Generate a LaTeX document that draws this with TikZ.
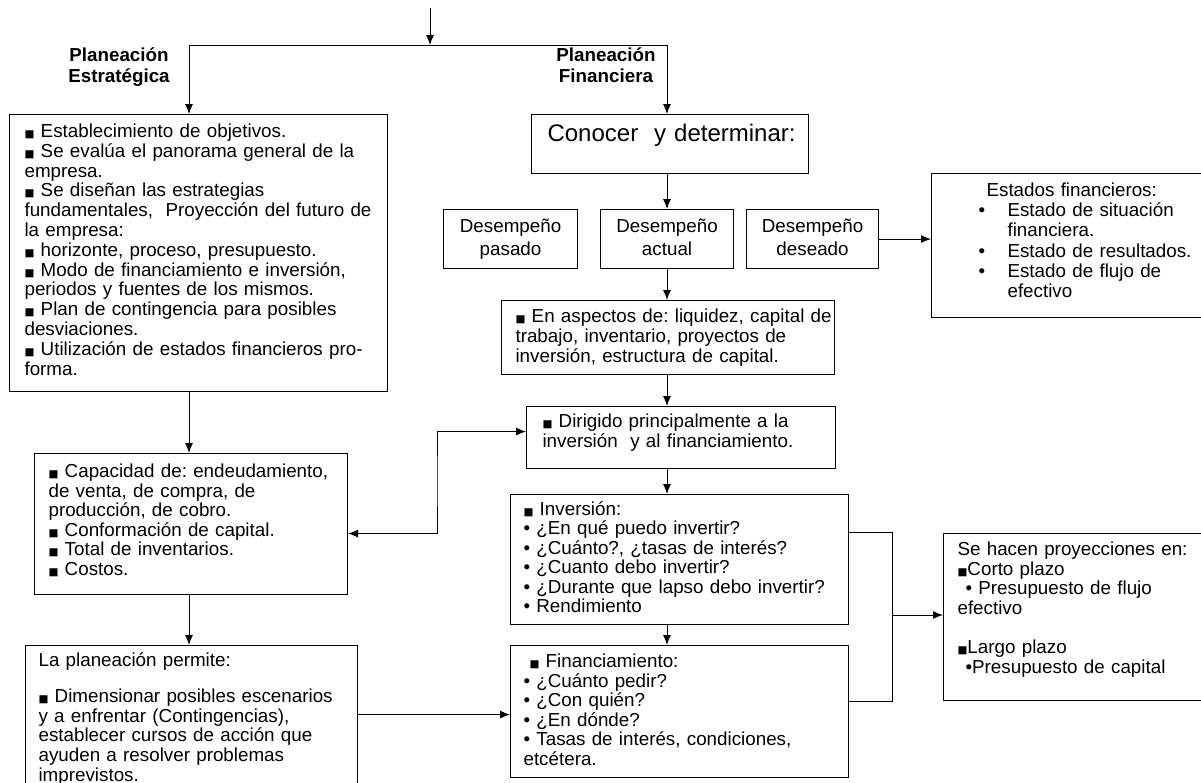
\documentclass[tikz,border=0pt]{standalone}
\usepackage{fontspec}
\setmainfont{Liberation Sans}
\newfontfamily\symfont{DejaVu Sans}
\usepackage{tikz}
\usetikzlibrary{arrows.meta, positioning}
\frenchspacing
\newcommand{\cuad}{{\symfont\fontsize{10.5}{10}\selectfont ■}}
\newcommand{\bul}{\makebox[29pt][l]{•}}
\tikzstyle{box} = [draw, line width=1.1pt, anchor=north west, inner ysep=0pt, align=left, font=\fontsize{18.8}{19.8}\selectfont, execute at begin node={\rightskip=-40pt plus 1fil}]
\tikzstyle{dbox} = [draw, line width=1.1pt, anchor=north west, inner sep=0pt, align=center, font=\fontsize{18.8}{23}\selectfont, text height=23pt, text depth=36pt]
\tikzstyle{lbl} = [align=center, inner sep=0pt, anchor=north, font=\bfseries\fontsize{18.8}{21}\selectfont]
\tikzstyle{line} = [draw, line width=1pt]
\tikzstyle{arr} = [draw, line width=1pt, ->]

\begin{document}
\begin{tikzpicture}[x=1pt, y=-1pt, >={Latex[length=10pt,width=8pt]}]
			\useasboundingbox (0,0) rectangle (1201,782);
			
			% titles of both branches
			\node [lbl] (lstrat) at (119,48) {Planeación\\Estratégica};
			\node [lbl] (lfin) at (606,48) {Planeación\\Financiera};
			
			% left column
			\node [box, inner xsep=15pt, text width=348pt, text height=23pt, text depth=254pt] (strat) at (9,114) {\cuad\ Establecimiento de objetivos.\\
				\cuad\ Se evalúa el panorama general de la\\
				empresa.\\
				\cuad\ Se diseñan las estrategias\\
				fundamentales,\ \ Proyección del futuro de\\
				la empresa:\\
				\cuad\ horizonte, proceso, presupuesto.\\
				\cuad\ Modo de financiamiento e inversión,\\
				periodos y fuentes de los mismos.\\
				\cuad\ Plan de contingencia para posibles\\
				desviaciones.\\
				\cuad\ Utilización de estados financieros pro-\\
				forma.};
			\node [box, inner xsep=14pt, text width=285pt, text height=24pt, text depth=117pt, font=\fontsize{18.8}{19.6}\selectfont] (capacidad) at (34,453) {\cuad\ Capacidad de: endeudamiento,\\
				de venta, de compra, de\\
				producción, de cobro.\\
				\cuad\ Conformación de capital.\\
				\cuad\ Total de inventarios.\\
				\cuad\ Costos.};
			\node [box, inner xsep=13pt, text width=306pt, text height=21pt, text depth=124pt] (permite) at (25,645) {La planeación permite:\\[16pt]
				\cuad\ Dimensionar posibles escenarios\\
				y a enfrentar (Contingencias),\\
				establecer cursos de acción que\\
				ayuden a resolver problemas\\
				imprevistos.};
			
			% middle column
			\node [box, inner xsep=16pt, text width=245pt, text height=27pt, text depth=32pt, font=\fontsize{24}{28}\selectfont] (conocer) at (531,114) {Conocer\ \ y determinar:};
			\node [dbox, text width=134pt] (pasado) at (443,209) {Desempeño\\pasado};
			\node [dbox, text width=133pt] (actual) at (600,209) {Desempeño\\actual};
			\node [dbox, text width=132pt] (deseado) at (746,209) {Desempeño\\deseado};
			\node [box, inner xsep=14pt, text width=305pt, text height=22pt, text depth=52pt, font=\fontsize{18.8}{20}\selectfont] (aspectos) at (501,300) {\cuad\ En aspectos de: liquidez, capital de\\
				trabajo, inventario, proyectos de\\
				inversión, estructura de capital.};
			\node [box, inner xsep=16pt, text width=277pt, text height=21pt, text depth=41pt, font=\fontsize{18.8}{20}\selectfont] (dirigido) at (526,406) {\cuad\ Dirigido principalmente a la\\
				inversión\ \ y al financiamiento.};
			\node [box, inner xsep=13pt, text width=312pt, text height=21pt, text depth=109pt, font=\fontsize{18.8}{19.4}\selectfont] (inversion) at (510,494) {\cuad\ Inversión:\\
				• ¿En qué puedo invertir?\\
				• ¿Cuánto?, ¿tasas de interés?\\
				• ¿Cuanto debo invertir?\\
				• ¿Durante que lapso debo invertir?\\
				• Rendimiento};
			\node [box, inner xsep=13pt, text width=312pt, text height=22pt, text depth=110pt, font=\fontsize{18.8}{19.6}\selectfont] (financ) at (510,645) {\hspace*{6pt}\cuad\ Financiamiento:\\
				• ¿Cuánto pedir?\\
				• ¿Con quién?\\
				• ¿En dónde?\\
				• Tasas de interés, condiciones,\\
				etcétera.};
			
			% right column
			\node [box, inner xsep=47pt, text width=178pt, text height=23pt, text depth=121pt, font=\fontsize{18.8}{20.2}\selectfont] (estados) at (931,173) {\hspace*{8pt}Estados financieros:\\
				\bul Estado de situación\\
				\hspace*{29pt}financiera.\\
				\bul Estado de resultados.\\
				\bul Estado de flujo de\\
				\hspace*{29pt}efectivo};
			\node [box, inner xsep=14pt, text width=232pt, text height=22pt, text depth=145pt, font=\fontsize{18.8}{19.6}\selectfont] (sehacen) at (943,533) {Se hacen proyecciones en:\\
				\cuad Corto plazo\\
				\hspace*{8pt}• Presupuesto de flujo\\
				efectivo\\[19.6pt]
				\cuad Largo plazo\\
				\hspace*{8pt}•Presupuesto de capital};
			
			\coordinate (in) at (430,8);
			\coordinate (bus) at (430,45);
			\coordinate (busl) at (189,45);
			\coordinate (busr) at (667,45);
			\coordinate (jog) at (437,480);
			\coordinate (brk) at (892,615);
			\coordinate (ce) at ([yshift=-9.5pt]capacidad.east);
			\coordinate (dw) at ([yshift=6pt]dirigido.west);
			\coordinate (fw) at ([yshift=-3pt]financ.west);
			\coordinate (ie) at ([yshift=27pt]inversion.east);
			\coordinate (fe) at ([yshift=10pt]financ.east);
			
			\path [arr] (in) -- (bus);
			\path [line] (busl) -- (busr);
			\path [arr] (busl) -- (busl |- strat.north);
			\path [arr] (busr) -- (busr |- conocer.north);
			\path [arr] (busr |- conocer.south) -- (busr |- actual.north);
			\path [arr] (busr |- actual.south) -- (busr |- aspectos.north);
			\path [arr] (busr |- aspectos.south) -- (busr |- dirigido.north);
			\path [arr] (busr |- dirigido.south) -- (busr |- inversion.north);
			\path [arr] (busr |- inversion.south) -- (busr |- financ.north);
			\path [arr] (deseado.east) -- (deseado.east -| estados.west);
			\path [arr] (busl |- strat.south) -- (busl |- capacidad.north);
			\path [arr] (busl |- capacidad.south) -- (busl |- permite.north);
			\path [arr] (fw -| permite.east) -- (fw);
			\path [arr, <->] (ce) -| (jog) |- (dw);
			\path [line] (ie) -| (brk);
			\path [line] (fe) -| (brk);
			\path [arr] (brk) -- (brk -| sehacen.west);
		\end{tikzpicture}
\end{document}
